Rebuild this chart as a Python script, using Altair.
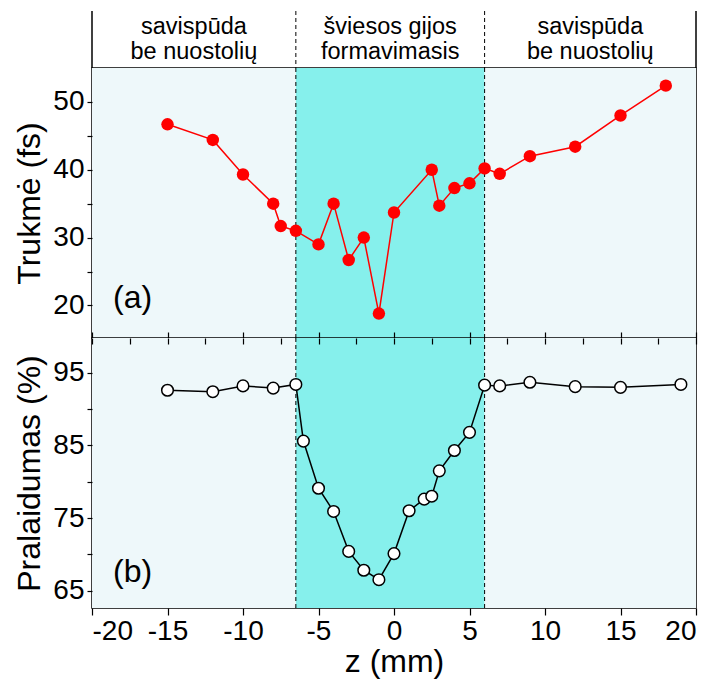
import altair as alt
import pandas as pd

# z ranges of the regimes along the propagation axis (mm)
region_start = [-20, -6.5, 6]
region_end = [-6.5, 6, 20]
region_kind = ["outer", "filament", "outer"]
region_text = ["savispūda\nbe nuostolių", "šviesos gijos\nformavimasis", "savispūda\nbe nuostolių"]
boundary_z = [-6.5, 6]
frame_z = [-20, 20]

# (a) pulse duration, fs
dur_z = [-15, -12, -10, -8, -7.5, -6.5, -5, -4, -3, -2, -1, 0,
         2.5, 3, 4, 5, 6, 7, 9, 12, 15, 18]
dur_fs = [46.7, 44.4, 39.3, 35.0, 31.7, 31.0, 29.0, 35.0, 26.7, 30.0, 18.8, 33.7,
          40.0, 34.7, 37.3, 38.0, 40.2, 39.4, 42.0, 43.4, 48.0, 52.4]

# (b) transmission, %
tr_z = [-15, -12, -10, -8, -6.5, -6, -5, -4, -3, -2, -1, 0,
        1, 2, 2.5, 3, 4, 5, 6, 7, 9, 12, 15, 19]
tr_pct = [92.6, 92.4, 93.2, 92.9, 93.4, 85.6, 79.1, 75.9, 70.4, 67.8, 66.5, 70.1,
          76.0, 77.6, 78.0, 81.5, 84.3, 86.8, 93.3, 93.2, 93.7, 93.1, 93.0, 93.4]

# tick positions (major + minor)
z_ticks = [-20, -17.5, -15, -12.5, -10, -7.5, -5, -2.5, 0, 2.5, 5, 7.5,
           10, 12.5, 15, 17.5, 20]
dur_ticks = [20, 25, 30, 35, 40, 45, 50]
tr_ticks = [65, 70, 75, 80, 85, 90, 95]
panel_labels = ["(a)", "(b)"]

FONT = "Liberation Sans"
W = 604
H_HEAD = 57
H_PANEL = 270

regions = pd.DataFrame({"start": region_start, "end": region_end,
                        "kind": region_kind, "text": region_text})
bounds_df = pd.DataFrame({"z": boundary_z})
frame_df = pd.DataFrame({"z": frame_z})
dur_df = pd.DataFrame({"z": dur_z, "v": dur_fs})
tr_df = pd.DataFrame({"z": tr_z, "v": tr_pct})

x_scale = alt.Scale(domain=[-20, 20], nice=False, zero=False)
fill_scale = alt.Scale(domain=["outer", "filament"], range=["#eef8fa", "#86f0ec"])

tick_common = dict(tickColor="black", tickWidth=1.2, grid=False, domain=False,
                   labelFont=FONT, labelFontSize=28, labelColor="black",
                   titleFont=FONT, titleFontSize=32, titleFontWeight="normal",
                   titleColor="black", zindex=1)

# ---------- header strip with regime names ----------
head_text = alt.Chart(regions).transform_calculate(
    mid="(datum.start + datum.end) / 2"
).mark_text(font=FONT, fontSize=23.5, lineBreak="\n", lineHeight=25,
            baseline="alphabetic", align="center", color="black").encode(
    x=alt.X("mid:Q", scale=x_scale, axis=None),
    y=alt.value(23),
    text="text:N",
)
head_frame = alt.Chart(frame_df).mark_rule(color="black", strokeWidth=1.5).encode(
    x=alt.X("z:Q", scale=x_scale, axis=None))
head_dash = alt.Chart(bounds_df).mark_rule(color="black", strokeWidth=1,
                                           strokeDash=[4, 3]).encode(
    x=alt.X("z:Q", scale=x_scale, axis=None))
header = alt.layer(head_frame, head_dash, head_text).properties(
    width=W, height=H_HEAD, view=alt.ViewBackground(strokeOpacity=0))


def backdrop():
    bg = alt.Chart(regions).mark_rect().encode(
        x=alt.X("start:Q", scale=x_scale),
        x2="end:Q",
        color=alt.Color("kind:N", scale=fill_scale, legend=None),
    )
    dash = alt.Chart(bounds_df).mark_rule(color="black", strokeWidth=1,
                                          strokeDash=[4, 3]).encode(
        x=alt.X("z:Q", scale=x_scale))
    return bg, dash


def label(txt, ypix):
    return alt.Chart(pd.DataFrame({"t": [txt]})).mark_text(
        font=FONT, fontSize=32, align="left", baseline="middle", color="black"
    ).encode(x=alt.value(21), y=alt.value(ypix), text="t:N")


inward = alt.ExprRef("-6")

# ---------- (a) duration ----------
bg_a, dash_a = backdrop()
y_a = alt.Scale(domain=[15.2, 55], nice=False, zero=False)
axes_a = alt.Chart(dur_df).mark_line(opacity=0).encode(
    x=alt.X("z:Q", scale=x_scale,
            axis=alt.Axis(orient="bottom", values=z_ticks, labels=False, title=None,
                          tickSize=inward, **tick_common)),
    y=alt.Y("v:Q", scale=y_a,
            axis=alt.Axis(values=dur_ticks, title="Trukmė (fs)",
                          labelExpr="datum.value % 10 === 0 ? '' + datum.value : ''",
                          tickSize=5, labelPadding=3, titlePadding=6, **tick_common)),
)
line_a = alt.Chart(dur_df).mark_line(color="#ff0000", strokeWidth=1.5).encode(
    x=alt.X("z:Q", scale=x_scale), y=alt.Y("v:Q", scale=y_a))
pts_a = alt.Chart(dur_df).mark_circle(color="#ff0000", size=155, opacity=1).encode(
    x=alt.X("z:Q", scale=x_scale), y=alt.Y("v:Q", scale=y_a))
panel_a = alt.layer(axes_a, bg_a, dash_a, line_a, pts_a,
                    label(panel_labels[0], 230)).properties(width=W, height=H_PANEL)

# ---------- (b) transmission ----------
bg_b, dash_b = backdrop()
y_b = alt.Scale(domain=[62.6, 99.8], nice=False, zero=False)
axes_b = alt.Chart(tr_df).mark_line(opacity=0).encode(
    x=alt.X("z:Q", scale=x_scale,
            axis=alt.Axis(orient="bottom", values=z_ticks, title="z (mm)",
                          labelExpr="datum.value % 5 === 0 ? '' + datum.value : ''",
                          tickSize=7, labelPadding=2, titlePadding=1, **tick_common)),
    y=alt.Y("v:Q", scale=y_b,
            axis=alt.Axis(values=tr_ticks, title="Pralaidumas (%)",
                          labelExpr="datum.value % 10 === 5 ? '' + datum.value : ''",
                          tickSize=5, labelPadding=3, titlePadding=6, **tick_common)),
)
line_b = alt.Chart(tr_df).mark_line(color="black", strokeWidth=1.5).encode(
    x=alt.X("z:Q", scale=x_scale), y=alt.Y("v:Q", scale=y_b))
pts_b = alt.Chart(tr_df).mark_point(shape="circle", filled=True, fill="white",
                                    stroke="black", strokeWidth=1.5, size=135,
                                    opacity=1).encode(
    x=alt.X("z:Q", scale=x_scale), y=alt.Y("v:Q", scale=y_b))
inner_b = alt.layer(axes_b, bg_b, dash_b, line_b, pts_b, label(panel_labels[1], 234))
# inward ticks along the top edge of panel (b)
top_b = alt.Chart(tr_df).mark_rule(opacity=0).encode(
    x=alt.X("z:Q", scale=x_scale,
            axis=alt.Axis(orient="top", values=z_ticks, labels=False, title=None,
                          tickSize=inward, **tick_common)))
panel_b = alt.layer(inner_b, top_b).properties(width=W, height=H_PANEL)

chart = alt.vconcat(header, panel_a, panel_b, spacing=0, bounds="flush").properties(
    padding={"left": 13, "top": 10, "right": 5, "bottom": 2},
    background="white",
).configure_view(stroke="black", strokeWidth=1.5)

chart.save("out.html", embed_options={"renderer": "svg", "actions": False})
